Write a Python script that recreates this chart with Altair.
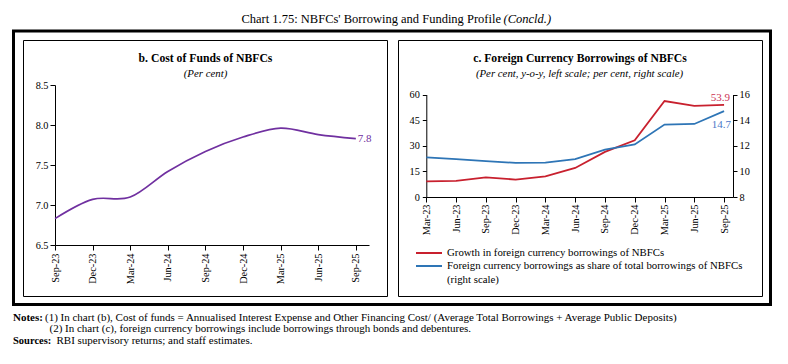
import altair as alt
import pandas as pd

FONT = "Liberation Serif"
PURPLE = "#7030a0"
RED = "#c8202e"
BLUE = "#2e75b6"

# ---------------- Panel b: Cost of funds ----------------
cof_quarters = ["Sep-23", "Dec-23", "Mar-24", "Jun-24", "Sep-24", "Dec-24", "Mar-25", "Jun-25", "Sep-25"]
cost_of_funds = [6.83, 7.07, 7.10, 7.42, 7.67, 7.85, 7.96, 7.88, 7.83]
cof_ticks = [6.5, 7.0, 7.5, 8.0, 8.5]

# ---------------- Panel c: Foreign currency borrowings ----------------
fcb_quarters = ["Mar-23", "Jun-23", "Sep-23", "Dec-23", "Mar-24", "Jun-24", "Sep-24", "Dec-24", "Mar-25", "Jun-25", "Sep-25"]
fcb_growth = [9.2, 9.4, 11.5, 10.2, 12.1, 17.0, 26.4, 33.2, 56.2, 53.3, 53.9]
fcb_share = [11.1, 10.95, 10.8, 10.66, 10.68, 10.95, 11.7, 12.1, 13.65, 13.7, 14.7]
growth_ticks = [0, 15, 30, 45, 60]
share_ticks = [8, 10, 12, 14, 16]
series_names = [
    "Growth in foreign currency borrowings of NBFCs",
    "Foreign currency borrowings as share of total borrowings of NBFCs",
]
series_note = "(right scale)"

main_title = "Chart 1.75: NBFCs' Borrowing and Funding Profile"
main_title_suffix = "(Concld.)"
title_b = "b. Cost of Funds of NBFCs"
sub_b = "(Per cent)"
title_c = "c. Foreign Currency Borrowings of NBFCs"
sub_c = "(Per cent, y-o-y, left scale; per cent, right scale)"
note1 = "(1)  In chart (b), Cost of funds = Annualised Interest Expense and Other Financing Cost/ (Average Total Borrowings + Average Public Deposits)"
note2 = "(2)  In chart (c), foreign currency borrowings include borrowings through bonds and debentures."
sources = "RBI supervisory returns; and staff estimates."


def label_expr(labels):
    return "[" + ",".join("'" + s + "'" for s in labels) + "][datum.value]"


# ---------- Panel b ----------
cof_df = pd.DataFrame({"i": list(range(len(cof_quarters))), "q": cof_quarters, "v": cost_of_funds})
nb = len(cof_quarters)
xb = alt.X("i:Q",
           scale=alt.Scale(domain=[0, nb - 1 + 0.35], range=[47, 361], nice=False, zero=False),
           axis=alt.Axis(values=list(range(nb)), labelExpr=label_expr(cof_quarters), labelAngle=-90,
                         orient="bottom", offset=-111, tickSize=5, labelPadding=3, title=None))
yb = alt.Y("v:Q",
           scale=alt.Scale(domain=[6.5, 8.5], range=[237, 77], nice=False, zero=False),
           axis=alt.Axis(values=cof_ticks, format=".1f", orient="left", offset=-47, tickSize=5,
                         labelPadding=2, title=None))
line_b = alt.Chart(cof_df).mark_line(color=PURPLE, strokeWidth=1.7, interpolate="cardinal").encode(x=xb, y=yb)
lab_b = alt.Chart(cof_df).transform_filter(alt.datum.i == nb - 1).mark_text(
    align="left", baseline="middle", dx=2, fontSize=11, font=FONT, color=PURPLE
).encode(x=xb, y=yb, text=alt.Text("v:Q", format=".1f"))
panel_b = alt.layer(line_b, lab_b)

# ---------- Panel c ----------
nc = len(fcb_quarters)
growth_df = pd.DataFrame({"i": list(range(nc)), "v": fcb_growth, "s": series_names[0]})
share_df = pd.DataFrame({"i": list(range(nc)), "v": fcb_share, "s": series_names[1]})
xc = alt.X("i:Q",
           scale=alt.Scale(domain=[0, nc - 1 + 0.3], range=[418.3, 725], nice=False, zero=False),
           axis=alt.Axis(values=list(range(nc)), labelExpr=label_expr(fcb_quarters), labelAngle=-90,
                         orient="bottom", offset=-159, tickSize=5, labelPadding=2, title=None))
yc1 = alt.Y("v:Q",
            scale=alt.Scale(domain=[0, 60], range=[189, 86.5], nice=False, zero=False),
            axis=alt.Axis(values=growth_ticks, orient="left", offset=-418.3, tickSize=4, labelPadding=3, title=None))
yc2 = alt.Y("v:Q",
            scale=alt.Scale(domain=[8, 16], range=[189, 86.5], nice=False, zero=False),
            axis=alt.Axis(values=share_ticks, orient="right", offset=-47, tickSize=4, labelPadding=2, title=None))

color = alt.Color("s:N",
                  scale=alt.Scale(domain=series_names, range=[RED, BLUE]),
                  legend=alt.Legend(orient="none", legendX=407, legendY=238.5, title=None, symbolType="stroke",
                                    symbolSize=676, symbolStrokeWidth=2, labelFont=FONT, labelFontSize=10.8,
                                    labelColor="black", labelLimit=600, labelOffset=4, padding=0,
                                    clipHeight=13, rowPadding=0, labelBaseline="middle"))

line_g = alt.Chart(growth_df).mark_line(strokeWidth=1.8).encode(x=xc, y=yc1, color=color)
lab_g = alt.Chart(growth_df).transform_filter(alt.datum.i == nc - 1).mark_text(
    align="right", baseline="middle", dx=6, dy=-7, fontSize=11, font=FONT, color="#cc3355"
).encode(x=xc, y=yc1, text=alt.Text("v:Q", format=".1f"))
line_s = alt.Chart(share_df).mark_line(strokeWidth=1.8).encode(x=xc, y=yc2, color=color)
lab_s = alt.Chart(share_df).transform_filter(alt.datum.i == nc - 1).mark_text(
    align="right", baseline="middle", dx=7, dy=14, fontSize=11, font=FONT, color="#4a78c8"
).encode(x=xc, y=yc2, text=alt.Text("v:Q", format=".1f"))
panel_c = alt.layer(alt.layer(line_g, lab_g), alt.layer(line_s, lab_s)).resolve_scale(y="independent").resolve_axis(y="independent")

# ---------- decorations ----------
one = pd.DataFrame({"k": [0]})


def frame(x1, y1, x2, y2, w):
    return alt.Chart(one).mark_rect(fillOpacity=0, stroke="black", strokeWidth=w).encode(
        x=alt.value(x1), x2=alt.value(x2), y=alt.value(y1), y2=alt.value(y2))


def txt(s, x, y, size=10, weight="normal", style="normal", align="left"):
    return alt.Chart(one).mark_text(text=s, fontSize=size, fontWeight=weight, fontStyle=style, align=align,
                                    baseline="middle", font=FONT, color="black").encode(
        x=alt.value(x), y=alt.value(y))


decor = [
    frame(5.5, 23, 762.5, 296.5, 3),
    frame(15.5, 32.5, 379.5, 288.5, 1),
    frame(390.5, 32.5, 754.5, 288.5, 1),
    txt(main_title, 493, 11, size=12.5, align="right"),
    txt(main_title_suffix, 495.5, 11, size=12.5, style="italic"),
    txt(title_b, 197.5, 50, size=11.7, weight="bold", align="center"),
    txt(sub_b, 197.5, 65.5, size=10.8, style="italic", align="center"),
    txt(title_c, 572, 50, size=11.7, weight="bold", align="center"),
    txt(sub_c, 571.5, 65.5, size=10.8, style="italic", align="center"),
    txt(series_note, 439, 272, size=10.8),
    txt("Notes:", 5, 309.5, size=11, weight="bold"),
    txt(note1, 37, 309.5, size=11),
    txt(note2, 41.5, 321, size=11),
    txt("Sources:", 5, 332.5, size=10.5, weight="bold"),
    txt(sources, 48.5, 332.5, size=11),
]

chart = alt.layer(panel_b, panel_c, *decor).resolve_scale(
    x="independent", y="independent"
).resolve_axis(x="independent", y="independent").properties(
    width=772, height=348, autosize=alt.AutoSizeParams(type="none"), padding=0
).configure_view(strokeOpacity=0).configure_axis(
    labelFont=FONT, labelFontSize=10.3, labelColor="black", domainColor="black", tickColor="black",
    domainWidth=1, tickWidth=1, grid=False
)

chart.save("out.html", embed_options={"renderer": "svg", "actions": False})
